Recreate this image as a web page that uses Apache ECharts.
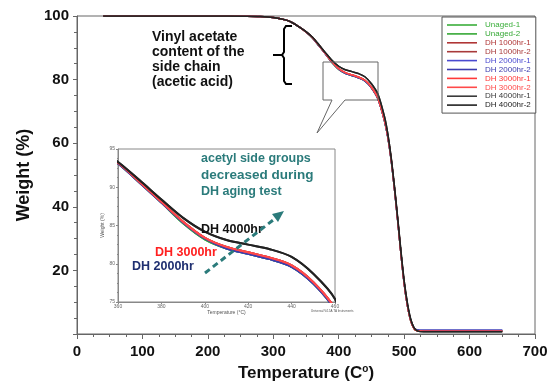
<!DOCTYPE html>
<html>
<head>
<meta charset="utf-8">
<script src="https://cdn.jsdelivr.net/npm/echarts@6/dist/echarts.min.js"></script>
<style>
  html, body { margin: 0; padding: 0; background: #fff; }
  #chart { width: 559px; height: 392px; }
</style>
</head>
<body>
<div id="chart"></div>
<script>
// temperature points (C)
const temps = [40, 100, 200, 260, 280, 300, 320, 330, 340, 350, 360, 370, 380, 390, 400, 410, 420, 430, 440, 450, 460,
  470, 475, 480, 485, 490, 495, 500, 505, 510, 515, 520, 530, 560, 600, 650];

// weight (%) per aging group
const unaged = [100, 100, 100, 99.95, 99.85, 99.5, 98.7, 97.8, 96.5, 95.0, 93.1, 90.6, 88.0, 85.3, 83.2, 82.0, 81.3, 80.6, 79.6, 77.4, 73.9,
  67.0, 62.0, 55.0, 46.0, 36.0, 25.5, 16.0, 9.0, 4.2, 1.8, 1.1, 1.0, 1.0, 1.0, 1.0];
const dh1000 = [100, 100, 100, 99.95, 99.85, 99.5, 98.7, 97.8, 96.5, 95.0, 93.2, 90.7, 88.1, 85.5, 83.4, 82.2, 81.5, 80.8, 79.8, 77.6, 74.1,
  67.2, 62.2, 55.2, 46.2, 36.2, 25.6, 16.1, 9.0, 4.2, 1.7, 1.0, 0.9, 0.9, 0.9, 0.9];
const dh2000 = [100, 100, 100, 99.95, 99.85, 99.5, 98.7, 97.8, 96.5, 95.0, 93.1, 90.6, 88.0, 85.4, 83.3, 82.0, 81.3, 80.6, 79.6, 77.4, 73.9,
  67.0, 62.0, 55.0, 46.0, 36.0, 25.5, 16.0, 9.0, 4.3, 1.9, 1.3, 1.2, 1.2, 1.2, 1.2];
const dh3000 = [100, 100, 100, 99.95, 99.85, 99.5, 98.7, 97.8, 96.5, 95.0, 93.2, 90.7, 88.1, 85.5, 83.4, 82.2, 81.5, 80.8, 79.8, 77.6, 74.1,
  67.2, 62.2, 55.2, 46.2, 36.2, 25.6, 16.1, 9.1, 4.3, 1.8, 1.0, 0.9, 0.9, 0.9, 0.9];
const dh4000 = [100, 100, 100, 99.95, 99.85, 99.5, 98.7, 97.8, 96.5, 95.1, 93.3, 90.9, 88.4, 86.0, 84.2, 83.1, 82.5, 81.9, 80.9, 78.7, 75.4,
  68.3, 63.0, 55.8, 46.8, 36.8, 26.3, 16.8, 9.7, 4.7, 2.0, 1.0, 0.7, 0.7, 0.7, 0.7];

const seriesNames = ['Unaged-1', 'Unaged-2', 'DH 1000hr-1', 'DH 1000hr-2', 'DH 2000hr-1', 'DH 2000hr-2',
  'DH 3000hr-1', 'DH 3000hr-2', 'DH 4000hr-1', 'DH 4000hr-2'];
const seriesValues = [unaged, unaged, dh1000, dh1000, dh2000, dh2000, dh3000, dh3000, dh4000, dh4000];
const seriesColors = ['#3aae3a', '#35a835', '#b03636', '#a83a3a', '#4a4ad0', '#3c3cae', '#ff3838', '#ff4a4a', '#3a3a3a', '#222222'];

const xTicks = [0, 700, 100];
const yTicks = [0, 100, 20];
const insetX = [360, 460, 20];
const insetY = [75, 95, 5];

const chart = echarts.init(document.getElementById('chart'));
const font = '"Liberation Sans", Arial, sans-serif';

const series = [];
seriesNames.forEach((name, i) => {
  const data = temps.map((t, j) => [t, seriesValues[i][j]]);
  series.push({
    name, type: 'line', data, symbol: 'none', smooth: 0.3,
    xAxisIndex: 0, yAxisIndex: 0,
    lineStyle: { color: seriesColors[i], width: 1.5 },
    itemStyle: { color: seriesColors[i] },
  });
  series.push({
    name, type: 'line', data, symbol: 'none', smooth: 0.3, clip: true,
    xAxisIndex: 1, yAxisIndex: 1,
    lineStyle: { color: seriesColors[i], width: 2 },
    itemStyle: { color: seriesColors[i] },
  });
});

const option = {
  backgroundColor: '#fff',
  animation: false,
  textStyle: { fontFamily: font },
  grid: [
    { left: 77, top: 16, right: 24, bottom: 58, show: true, borderColor: '#666', borderWidth: 1 },
    { left: 118, top: 149, width: 217, height: 153, show: true, borderColor: '#888', borderWidth: 1 },
  ],
  legend: {
    left: 442, top: 17, orient: 'vertical',
    backgroundColor: '#fff', borderColor: '#555', borderWidth: 1,
    padding: [4, 5, 4, 5],
    itemWidth: 30, itemHeight: 8, itemGap: 0.9,
    icon: 'path://M0,0H30V1.6H0Z',
    textStyle: { fontSize: 8, lineHeight: 8, fontFamily: font, padding: [0, 0, 0, 3] },
    data: seriesNames.map((n, i) => ({ name: n, textStyle: { color: seriesColors[i] } })),
  },
  xAxis: [
    {
      gridIndex: 0, type: 'value', min: xTicks[0], max: xTicks[1], interval: xTicks[2],
      name: 'Temperature (C{s|o})', nameLocation: 'middle', nameGap: 29,
      nameTextStyle: { fontSize: 17, fontWeight: 'bold', color: '#111',
        rich: { s: { fontSize: 10, fontWeight: 'bold', color: '#111', verticalAlign: 'top', padding: [0, 0, 8, 0] } } },
      axisLine: { lineStyle: { color: '#666' } },
      axisTick: { length: 5, lineStyle: { color: '#666' } },
      minorTick: { show: true, splitNumber: 4, length: 3, lineStyle: { color: '#666' } },
      splitLine: { show: false },
      axisLabel: { fontSize: 15, fontWeight: 'bold', color: '#111', margin: 10 },
    },
    {
      gridIndex: 1, type: 'value', min: insetX[0], max: insetX[1], interval: insetX[2],
      name: 'Temperature (°C)', nameLocation: 'middle', nameGap: 8,
      nameTextStyle: { fontSize: 5, color: '#555' },
      axisLine: { lineStyle: { color: '#888' } },
      axisTick: { length: 2, lineStyle: { color: '#888' } },
      minorTick: { show: true, splitNumber: 4, length: 1, lineStyle: { color: '#888' } },
      splitLine: { show: false },
      axisLabel: { fontSize: 5, color: '#666', margin: 2 },
    },
  ],
  yAxis: [
    {
      gridIndex: 0, type: 'value', min: yTicks[0], max: yTicks[1], interval: yTicks[2],
      name: 'Weight (%)', nameLocation: 'middle', nameGap: 36, nameRotate: 90,
      nameTextStyle: { fontSize: 18, fontWeight: 'bold', color: '#111' },
      axisLine: { show: true, lineStyle: { color: '#666' } },
      axisTick: { show: true, length: 4, lineStyle: { color: '#666' } },
      minorTick: { show: true, splitNumber: 4, length: 3, lineStyle: { color: '#666' } },
      splitLine: { show: false },
      axisLabel: { fontSize: 15, fontWeight: 'bold', color: '#111', margin: 8,
        formatter: (v) => (v === 0 ? '' : v) },
    },
    {
      gridIndex: 1, type: 'value', min: insetY[0], max: insetY[1], interval: insetY[2],
      name: 'Weight (%)', nameLocation: 'middle', nameGap: 12, nameRotate: 90,
      nameTextStyle: { fontSize: 5, color: '#555' },
      axisLine: { show: true, lineStyle: { color: '#888' } },
      axisTick: { show: true, length: 2, lineStyle: { color: '#888' } },
      minorTick: { show: true, splitNumber: 4, length: 1, lineStyle: { color: '#888' } },
      splitLine: { show: false },
      axisLabel: { fontSize: 5, color: '#666', margin: 3 },
    },
  ],
  graphic: [
    // bracket
    { type: 'polyline', shape: { points: [[292, 26], [286, 26], [284, 29], [284, 52], [282, 55], [273, 55]] },
      style: { stroke: '#000', lineWidth: 2, fill: null } },
    { type: 'polyline', shape: { points: [[273, 55], [282, 55], [284, 58], [284, 81], [286, 84], [292, 84]] },
      style: { stroke: '#000', lineWidth: 2, fill: null } },
    // callout
    { type: 'polygon', shape: { points: [[323, 62], [378, 62], [378, 100], [345, 100], [317, 133], [332, 100], [323, 100]] },
      style: { stroke: '#666', lineWidth: 1, fill: null }, z: 10 },
    // annotation text
    { type: 'text', left: 152, top: 30, z: 10,
      style: { text: 'Vinyl acetate\ncontent of the\nside chain\n(acetic acid)', font: 'bold 14px ' + font, lineHeight: 15, fill: '#111' } },
    { type: 'text', left: 201, top: 152, z: 10,
      style: { text: 'acetyl side groups', font: 'bold 12.5px ' + font, fill: '#2b7b7b' } },
    { type: 'text', left: 201, top: 168, z: 10,
      style: { text: 'decreased during', font: 'bold 13.5px ' + font, fill: '#2b7b7b' } },
    { type: 'text', left: 201, top: 185, z: 10,
      style: { text: 'DH aging test', font: 'bold 12.5px ' + font, fill: '#2b7b7b' } },
    { type: 'text', left: 201, top: 223, z: 10,
      style: { text: 'DH 4000hr', font: 'bold 12.5px ' + font, fill: '#111' } },
    { type: 'text', left: 155, top: 246, z: 10,
      style: { text: 'DH 3000hr', font: 'bold 12.5px ' + font, fill: '#ff2020' } },
    { type: 'text', left: 132, top: 260, z: 10,
      style: { text: 'DH 2000hr', font: 'bold 12.5px ' + font, fill: '#1f2f70' } },
    { type: 'text', left: 311, top: 310, z: 10,
      style: { text: 'Universal V4.5A TA Instruments', font: '3px ' + font, fill: '#555' } },
    // dashed arrow
    { type: 'line', shape: { x1: 205, y1: 273, x2: 277, y2: 217 }, z: 10,
      style: { stroke: '#2b7b7b', lineWidth: 3, lineDash: [6, 4] } },
    { type: 'polygon', shape: { points: [[284, 211], [278, 222], [272, 214]] }, z: 10,
      style: { fill: '#2b7b7b' } },
  ],
  series,
};

chart.setOption(option);
</script>
</body>
</html>
